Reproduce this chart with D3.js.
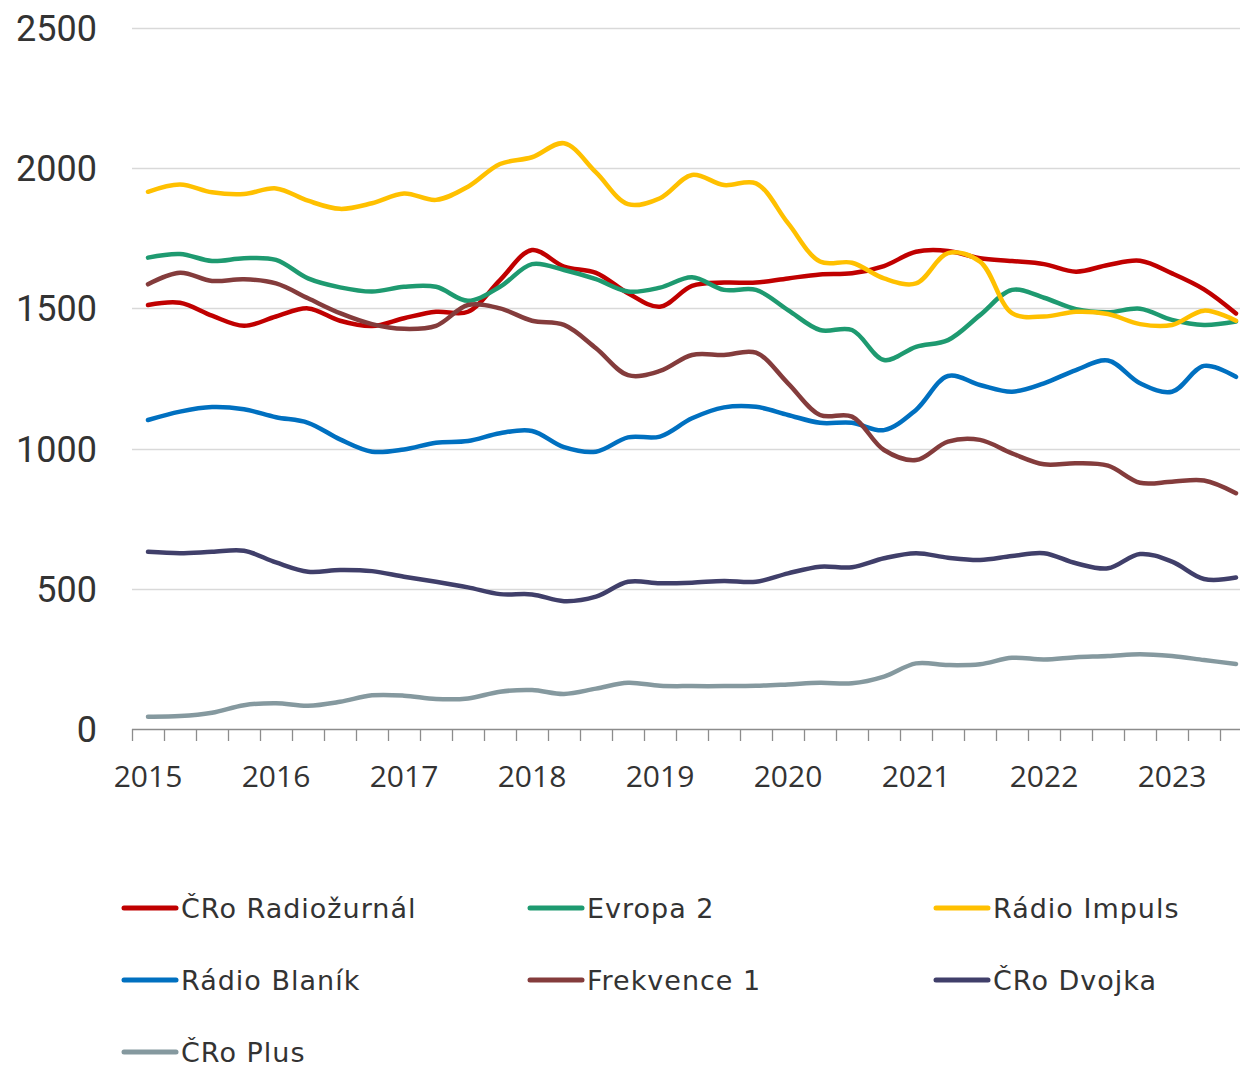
<!DOCTYPE html>
<html>
<head>
<meta charset="utf-8">
<script src="https://cdn.jsdelivr.net/npm/d3@7"></script>
<style>
  body { margin: 0; background: #fff; }
  svg { display: block; }
</style>
</head>
<body>
<div class="draw"></div>
<script>
const width = 1240
const height = 1068

// quarters 2015 Q1 .. 2023 Q3
const years = [2015, 2016, 2017, 2018, 2019, 2020, 2021, 2022, 2023]
const quarters = []
years.forEach(y => [1, 2, 3, 4].forEach(q => {
  if (y < 2023 || q <= 3) quarters.push(y + "Q" + q)
}))

const yTicks = [0, 500, 1000, 1500, 2000, 2500]

const radiozurnal = [1512, 1520, 1474, 1438, 1471, 1500, 1456, 1437, 1465, 1488, 1488, 1601, 1708, 1649, 1627, 1554, 1506, 1580, 1592, 1592, 1607, 1621, 1625, 1651, 1702, 1705, 1679, 1669, 1658, 1631, 1655, 1670, 1625, 1568, 1482]
const evropa2 = [1681, 1694, 1669, 1679, 1673, 1607, 1575, 1560, 1577, 1577, 1527, 1577, 1658, 1637, 1604, 1560, 1574, 1611, 1566, 1566, 1494, 1423, 1423, 1316, 1363, 1387, 1476, 1566, 1538, 1497, 1486, 1499, 1459, 1441, 1453]
const impuls = [1916, 1942, 1914, 1908, 1928, 1884, 1855, 1875, 1910, 1887, 1934, 2015, 2039, 2089, 1985, 1872, 1893, 1976, 1940, 1946, 1804, 1667, 1663, 1607, 1589, 1697, 1667, 1483, 1471, 1488, 1480, 1444, 1441, 1492, 1456]
const blanik = [1102, 1132, 1148, 1140, 1112, 1092, 1033, 989, 997, 1021, 1027, 1055, 1063, 1005, 989, 1040, 1043, 1108, 1147, 1149, 1120, 1092, 1092, 1066, 1138, 1259, 1227, 1203, 1233, 1280, 1314, 1233, 1203, 1295, 1256]
const frekvence1 = [1586, 1627, 1598, 1604, 1589, 1536, 1483, 1444, 1427, 1438, 1512, 1500, 1456, 1441, 1358, 1262, 1277, 1334, 1334, 1342, 1233, 1120, 1114, 995, 959, 1025, 1031, 983, 944, 948, 939, 878, 882, 886, 841]
const dvojka = [632, 627, 632, 636, 594, 561, 567, 563, 543, 525, 505, 481, 480, 456, 472, 525, 520, 522, 528, 525, 555, 579, 577, 609, 627, 611, 603, 617, 627, 591, 573, 624, 597, 535, 540]
const plus = [44, 46, 58, 85, 92, 83, 97, 120, 119, 107, 109, 133, 139, 125, 144, 165, 154, 153, 153, 154, 159, 165, 163, 187, 234, 228, 231, 254, 248, 256, 260, 267, 260, 246, 232]

const names = ["ČRo Radiožurnál", "Evropa 2", "Rádio Impuls", "Rádio Blaník", "Frekvence 1", "ČRo Dvojka", "ČRo Plus"]
const colors = ["#c00000", "#1e9a70", "#ffc000", "#0070c0", "#843c3c", "#403f6a", "#85999f"]

const series = [radiozurnal, evropa2, impuls, blanik, frekvence1, dvojka, plus]
  .map((vals, i) => ({ name: names[i], color: colors[i], values: vals }))

let svg = d3.select("div.draw")
  .append("svg")
  .attr("width", width)
  .attr("height", height)

let x = d3.scaleBand()
  .domain(quarters)
  .range([132, 132 + quarters.length * 32])

let y = d3.scaleLinear()
  .domain([0, 2500])
  .range([729, 28])

// gridlines
svg.append("g")
  .selectAll("line")
  .data(yTicks.filter(d => d > 0))
  .enter()
  .append("line")
  .attr("x1", 132)
  .attr("x2", width)
  .attr("y1", d => Math.round(y(d)) + 0.5)
  .attr("y2", d => Math.round(y(d)) + 0.5)
  .style("stroke", "#d9d9d9")
  .style("stroke-width", 1.3)

// y labels
svg.append("g")
  .selectAll("text")
  .data(yTicks)
  .enter()
  .append("text")
  .attr("x", 97)
  .attr("y", d => y(d) + 13)
  .attr("text-anchor", "end")
  .style("font-family", "Roboto, sans-serif")
  .style("font-size", "36px")
  .style("fill", "#333")
  .text(d => d)

// x axis line + ticks
let xAxis = svg.append("g")
xAxis.append("line")
  .attr("x1", 132)
  .attr("x2", width)
  .attr("y1", 729.5)
  .attr("y2", 729.5)
  .style("stroke", "#8c8c8c")
  .style("stroke-width", 1.5)

xAxis.selectAll("line.tick")
  .data(quarters)
  .enter()
  .append("line")
  .attr("class", "tick")
  .attr("x1", d => x(d) + 0.5)
  .attr("x2", d => x(d) + 0.5)
  .attr("y1", 729)
  .attr("y2", 741)
  .style("stroke", "#8c8c8c")
  .style("stroke-width", 1.3)

xAxis.selectAll("text")
  .data(quarters.filter(d => d.endsWith("Q1")))
  .enter()
  .append("text")
  .attr("x", d => x(d) + x.bandwidth() / 2)
  .attr("y", 787)
  .attr("text-anchor", "middle")
  .style("font-family", "'Open Sans', sans-serif")
  .style("font-size", "30px")
  .style("fill", "#333")
  .text(d => d.slice(0, 4))

// lines
let line = d3.line()
  .x((d, i) => x(quarters[i]) + x.bandwidth() / 2)
  .y(d => y(d))
  .curve(d3.curveCatmullRom.alpha(0.5))

svg.append("g")
  .selectAll("path")
  .data(series)
  .enter()
  .append("path")
  .attr("d", d => line(d.values))
  .style("fill", "none")
  .style("stroke", d => d.color)
  .style("stroke-width", 4.5)
  .style("stroke-linecap", "round")
  .style("stroke-linejoin", "round")

// legend
const legendCols = [122, 528, 934]
const legendRows = [908, 980, 1052]

let legend = svg.append("g")
  .selectAll("g")
  .data(series)
  .enter()
  .append("g")
  .attr("transform", (d, i) => "translate(" + legendCols[i % 3] + "," + legendRows[Math.floor(i / 3)] + ")")

legend.append("line")
  .attr("x1", 2)
  .attr("x2", 54)
  .attr("y1", 0)
  .attr("y2", 0)
  .style("stroke", d => d.color)
  .style("stroke-width", 5)
  .style("stroke-linecap", "round")

legend.append("text")
  .attr("x", 59)
  .attr("y", 10)
  .style("font-family", "'DejaVu Sans', sans-serif")
  .style("font-size", "27px")
  .style("letter-spacing", "1px")
  .style("fill", "#333")
  .text(d => d.name)
</script>
</body>
</html>
